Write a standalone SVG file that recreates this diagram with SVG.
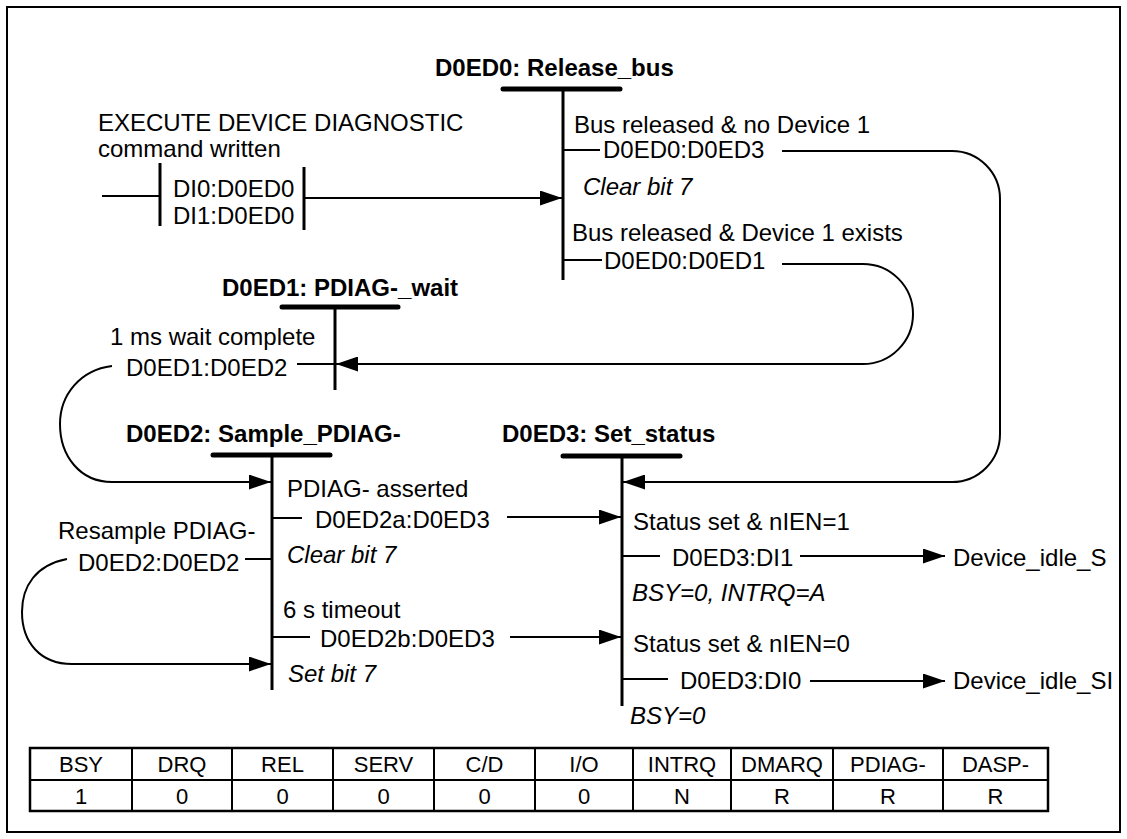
<svg xmlns="http://www.w3.org/2000/svg" width="1127" height="839" viewBox="0 0 1127 839">
<style>
.t{font-family:"Liberation Sans",Arial,sans-serif;font-size:24px;fill:#000}
.b{font-weight:bold}
.i{font-style:italic}
.ln{stroke:#000;stroke-width:2;fill:none}
.st{stroke:#000;stroke-width:3;fill:none}
.bar{stroke:#000;stroke-width:5;stroke-linecap:round}
.tb{font-family:"Liberation Sans",Arial,sans-serif;font-size:22px;text-anchor:middle;fill:#000}
.arr{stroke:#000;stroke-width:2;fill:none;marker-end:url(#ah)}
</style>
<defs>
<marker id="ah" markerUnits="userSpaceOnUse" markerWidth="22" markerHeight="15" refX="22" refY="7.5" orient="auto">
<path d="M0,0 L22,7.5 L0,15 z" fill="#000"/>
</marker>
</defs>
<rect x="7" y="7" width="1113" height="825" fill="#fff" stroke="#000" stroke-width="2"/>

<g id="entry">
<text class="t" x="98" y="131">EXECUTE DEVICE DIAGNOSTIC</text>
<text class="t" x="98" y="157">command written</text>
<line class="ln" x1="102" y1="196" x2="160" y2="196"/>
<line class="st" x1="160" y1="163" x2="160" y2="226"/>
<line class="st" x1="304" y1="167" x2="304" y2="230"/>
<text class="t" x="173" y="197">DI0:D0ED0</text>
<text class="t" x="173" y="224">DI1:D0ED0</text>
</g>

<g id="D0ED0">
<text class="t b" x="435" y="76">D0ED0: Release_bus</text>
<line class="bar" x1="503" y1="89" x2="620" y2="89"/>
<line class="st" x1="563" y1="89" x2="563" y2="280"/>
<text class="t" x="574" y="133">Bus released &amp; no Device 1</text>
<line class="ln" x1="563" y1="150" x2="600" y2="150"/>
<text class="t" x="603" y="158">D0ED0:D0ED3</text>
<text class="t i" x="583" y="195">Clear bit 7</text>
<text class="t" x="572" y="241">Bus released &amp; Device 1 exists</text>
<line class="ln" x1="563" y1="260" x2="602" y2="260"/>
<text class="t" x="604" y="269">D0ED0:D0ED1</text>
</g>

<g id="D0ED1">
<text class="t b" x="222" y="296">D0ED1: PDIAG-_wait</text>
<line class="bar" x1="282" y1="307" x2="398" y2="307"/>
<line class="st" x1="335" y1="307" x2="335" y2="390"/>
<text class="t" x="110" y="345">1 ms wait complete</text>
<text class="t" x="126" y="376">D0ED1:D0ED2</text>
<line class="ln" x1="297" y1="364" x2="335" y2="364"/>
</g>

<g id="D0ED2">
<text class="t b" x="126" y="442">D0ED2: Sample_PDIAG-</text>
<line class="bar" x1="213" y1="455" x2="330" y2="455"/>
<line class="st" x1="272" y1="455" x2="272" y2="690"/>
<text class="t" x="287" y="497">PDIAG- asserted</text>
<line class="ln" x1="272" y1="518" x2="302" y2="518"/>
<text class="t" x="315" y="528">D0ED2a:D0ED3</text>
<text class="t i" x="287" y="563">Clear bit 7</text>
<text class="t" x="58" y="539">Resample PDIAG-</text>
<text class="t" x="78" y="571">D0ED2:D0ED2</text>
<line class="ln" x1="245" y1="559" x2="272" y2="559"/>
<text class="t" x="283" y="618">6 s timeout</text>
<line class="ln" x1="272" y1="637" x2="310" y2="637"/>
<text class="t" x="320" y="647">D0ED2b:D0ED3</text>
<text class="t i" x="288" y="682">Set bit 7</text>
</g>

<g id="D0ED3">
<text class="t b" x="502" y="442">D0ED3: Set_status</text>
<line class="bar" x1="563" y1="456" x2="680" y2="456"/>
<line class="st" x1="622" y1="456" x2="622" y2="706"/>
<text class="t" x="633" y="530">Status set &amp; nIEN=1</text>
<line class="ln" x1="622" y1="556" x2="660" y2="556"/>
<text class="t" x="672" y="566">D0ED3:DI1</text>
<text class="t i" x="632" y="601">BSY=0, INTRQ=A</text>
<text class="t" x="633" y="652">Status set &amp; nIEN=0</text>
<line class="ln" x1="622" y1="679" x2="668" y2="679"/>
<text class="t" x="680" y="689">D0ED3:DI0</text>
<text class="t i" x="630" y="724">BSY=0</text>
</g>

<g id="Device_idle_S">
<text class="t" x="953" y="566">Device_idle_S</text>
</g>
<g id="Device_idle_SI">
<text class="t" x="953" y="689">Device_idle_SI</text>
</g>

<g id="connectors">
<line class="arr" x1="304" y1="198" x2="562" y2="198"/>
<path class="arr" d="M782,151 L952,151 A48,48 0 0 1 1000,199 L1000,434 A48,48 0 0 1 952,482 L623,482"/>
<path class="arr" d="M782,264 L863,264 A50,50 0 0 1 863,364 L336,364"/>
<path class="arr" d="M112,366 C80,370 60,395 60,424 C60,456 80,482 112,482 L271,482"/>
<path class="arr" d="M67,559 C36,565 22,586 22,612 C22,642 40,664 72,664 L271,664"/>
<line class="arr" x1="507" y1="517" x2="621" y2="517"/>
<line class="arr" x1="510" y1="637" x2="621" y2="637"/>
<line class="arr" x1="800" y1="556" x2="945" y2="556"/>
<line class="arr" x1="810" y1="681" x2="945" y2="681"/>
</g>

<g id="status_table">
<rect x="30" y="748" width="1018" height="63" fill="none" stroke="#000" stroke-width="2.5"/>
<line class="ln" x1="30" y1="780" x2="1048" y2="780"/>
<path class="ln" d="M132,748V811M232,748V811M333,748V811M434,748V811M535,748V811M633,748V811M731,748V811M833,748V811M943,748V811"/>
<text class="tb" x="81" y="772">BSY</text>
<text class="tb" x="182" y="772">DRQ</text>
<text class="tb" x="282.5" y="772">REL</text>
<text class="tb" x="383.5" y="772">SERV</text>
<text class="tb" x="484.5" y="772">C/D</text>
<text class="tb" x="584" y="772">I/O</text>
<text class="tb" x="682" y="772">INTRQ</text>
<text class="tb" x="782" y="772">DMARQ</text>
<text class="tb" x="888" y="772">PDIAG-</text>
<text class="tb" x="995.5" y="772">DASP-</text>
<text class="tb" x="81" y="804">1</text>
<text class="tb" x="182" y="804">0</text>
<text class="tb" x="282.5" y="804">0</text>
<text class="tb" x="383.5" y="804">0</text>
<text class="tb" x="484.5" y="804">0</text>
<text class="tb" x="584" y="804">0</text>
<text class="tb" x="682" y="804">N</text>
<text class="tb" x="782" y="804">R</text>
<text class="tb" x="888" y="804">R</text>
<text class="tb" x="995.5" y="804">R</text>
</g>
</svg>
